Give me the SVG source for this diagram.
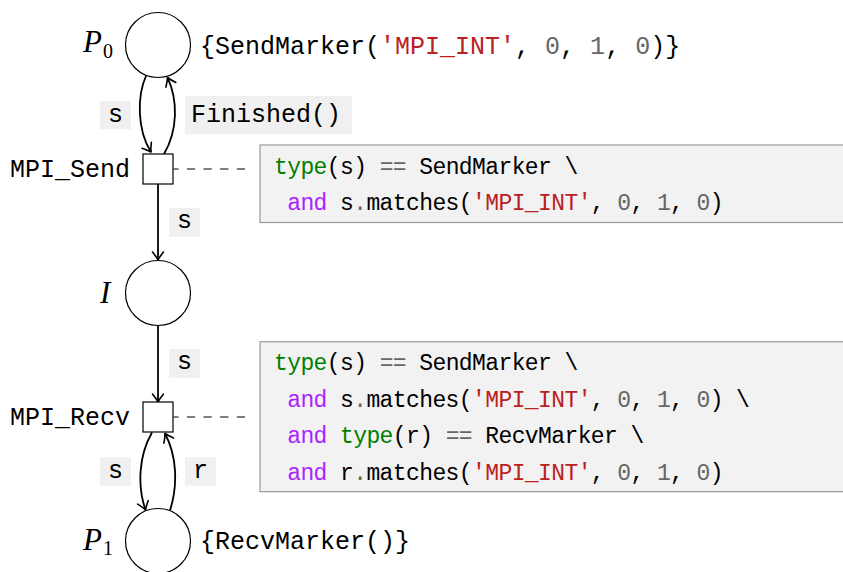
<svg xmlns="http://www.w3.org/2000/svg" width="843" height="572" viewBox="0 0 843 572">
  <style>
    .mono{font-family:"Liberation Mono","DejaVu Sans Mono",monospace;}
    .lbl{font-size:25px;fill:#000;}
    .code{font-size:23px;letter-spacing:-0.6px;fill:#000;}
    .kw{fill:#008000;}
    .ow{fill:#AA22FF;}
    .str{fill:#BA2121;}
    .num{fill:#666666;}
    .op{fill:#666666;}
    .math{font-family:"Liberation Serif","DejaVu Serif",serif;font-style:italic;font-size:31px;fill:#000;}
    .sub{font-family:"Liberation Serif","DejaVu Serif",serif;font-style:normal;font-size:20px;fill:#000;}
    .place{fill:#fff;stroke:#000;stroke-width:1.2;}
    .trans{fill:#fff;stroke:#000;stroke-width:1.2;}
    .arc{fill:none;stroke:#000;stroke-width:1.8;marker-end:url(#arr);}
    .link{fill:none;stroke:#000;stroke-width:1.2;stroke-dasharray:8.3 8.3;}
    .tag{fill:#f0f0f0;}
    .guard{fill:#f2f2f2;stroke:#999;stroke-width:1.2;}
  </style>
  <defs>
    <marker id="arr" markerUnits="userSpaceOnUse" viewBox="-12 -8 14 16" refX="0" refY="0" markerWidth="14" markerHeight="16" orient="auto">
      <path d="M-8,-5.5 Q-3,-1.5 0,0 Q-3,1.5 -8,5.5" fill="none" stroke="#000" stroke-width="1.6" stroke-linecap="round" stroke-linejoin="round"/>
    </marker>
  </defs>

  <!-- guard boxes -->
  <g id="guard-send">
    <rect class="guard" x="260" y="145" width="600" height="77.5"/>
    <text class="mono code" x="274" y="174"><tspan class="kw">type</tspan>(s) <tspan class="op">==</tspan> SendMarker \</text>
    <text class="mono code" x="287.2" y="210"><tspan class="ow">and</tspan> s<tspan class="op">.</tspan>matches(<tspan class="str">'MPI_INT'</tspan>, <tspan class="num">0</tspan>, <tspan class="num">1</tspan>, <tspan class="num">0</tspan>)</text>
  </g>
  <g id="guard-recv">
    <rect class="guard" x="260" y="341.7" width="600" height="150"/>
    <text class="mono code" x="274" y="370"><tspan class="kw">type</tspan>(s) <tspan class="op">==</tspan> SendMarker \</text>
    <text class="mono code" x="287.2" y="406.5"><tspan class="ow">and</tspan> s<tspan class="op">.</tspan>matches(<tspan class="str">'MPI_INT'</tspan>, <tspan class="num">0</tspan>, <tspan class="num">1</tspan>, <tspan class="num">0</tspan>) \</text>
    <text class="mono code" x="287.2" y="443"><tspan class="ow">and</tspan> <tspan class="kw">type</tspan>(r) <tspan class="op">==</tspan> RecvMarker \</text>
    <text class="mono code" x="287.2" y="479.5"><tspan class="ow">and</tspan> r<tspan class="op">.</tspan>matches(<tspan class="str">'MPI_INT'</tspan>, <tspan class="num">0</tspan>, <tspan class="num">1</tspan>, <tspan class="num">0</tspan>)</text>
  </g>

  <!-- connectors -->
  <g id="connectors">
    <path class="arc" d="M146,76 C137,96 137,130 151,152"/>
    <path class="arc" d="M164,154 C178,130 178,100 167.5,77.5"/>
    <path class="arc" d="M158,184 V260"/>
    <path class="arc" d="M158,325.5 V402"/>
    <path class="arc" d="M152,432.5 C139,455 137,485 145.5,510"/>
    <path class="arc" d="M170,510.5 C178,485 177,456 165,433.5"/>
    <path class="link" d="M245,169 H173.5"/>
    <path class="link" d="M245,417 H173.5"/>
    <!-- arc inscriptions -->
    <rect class="tag" x="100" y="101" width="31" height="28.3"/>
    <text class="mono lbl" x="115.5" y="121.5" text-anchor="middle">s</text>
    <rect class="tag" x="185" y="96" width="167" height="38.3"/>
    <text class="mono lbl" x="191" y="122">Finished()</text>
    <rect class="tag" x="169" y="207.7" width="31" height="29"/>
    <text class="mono lbl" x="184.5" y="228" text-anchor="middle">s</text>
    <rect class="tag" x="169" y="349" width="31" height="28.7"/>
    <text class="mono lbl" x="184.5" y="368.5" text-anchor="middle">s</text>
    <rect class="tag" x="100" y="457.3" width="31" height="28.4"/>
    <text class="mono lbl" x="115.5" y="478" text-anchor="middle">s</text>
    <rect class="tag" x="185" y="457.3" width="31" height="28.4"/>
    <text class="mono lbl" x="200.5" y="478" text-anchor="middle">r</text>
  </g>

  <!-- places -->
  <g id="P0">
    <circle class="place" cx="158" cy="45" r="32.5"/>
    <text class="math" x="83" y="52">P</text>
    <text class="sub" x="103" y="58">0</text>
    <text class="mono lbl" x="200" y="54">{SendMarker(<tspan class="str">'MPI_INT'</tspan>, <tspan class="num">0</tspan>, <tspan class="num">1</tspan>, <tspan class="num">0</tspan>)}</text>
  </g>
  <g id="I">
    <circle class="place" cx="158" cy="293" r="32.5"/>
    <text class="math" x="100" y="303">I</text>
  </g>
  <g id="P1">
    <circle class="place" cx="158" cy="541" r="32.5"/>
    <text class="math" x="83" y="549.5">P</text>
    <text class="sub" x="103" y="555">1</text>
    <text class="mono lbl" x="200" y="549">{RecvMarker()}</text>
  </g>

  <!-- transitions -->
  <g id="MPI_Send">
    <rect class="trans" x="143" y="154" width="30" height="30"/>
    <text class="mono lbl" x="10" y="177">MPI_Send</text>
  </g>
  <g id="MPI_Recv">
    <rect class="trans" x="143" y="402" width="30" height="30"/>
    <text class="mono lbl" x="10" y="425">MPI_Recv</text>
  </g>
</svg>
